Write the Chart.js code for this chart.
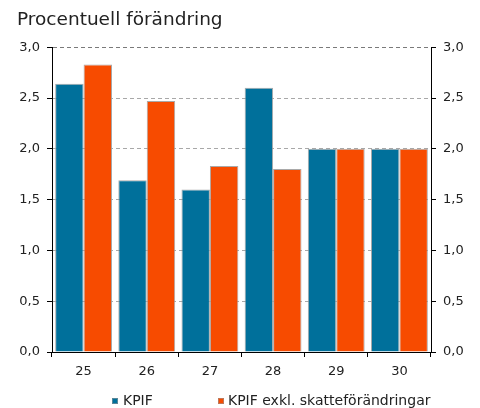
<!DOCTYPE html>
<html>
<head>
<meta charset="utf-8">
<script src="https://cdn.jsdelivr.net/npm/chart.js@4/dist/chart.umd.min.js"></script>
<style>
  html, body { margin: 0; padding: 0; background: #ffffff; }
  #wrap { position: relative; width: 480px; height: 408px; overflow: hidden; }
  #legend { position: absolute; left: 0; top: 0; width: 480px; height: 408px; pointer-events: none;
            font-family: "DejaVu Sans", Verdana, sans-serif; font-size: 14px; color: #222; }
  .sw { position: absolute; width: 6px; height: 6px; box-shadow: inset 0 0 0 1px rgba(150,150,150,0.6); }
  .lt { position: absolute; line-height: 16px; white-space: nowrap; }
</style>
</head>
<body>
<div id="wrap">
  <canvas id="c" width="480" height="408"></canvas>
  <div id="legend"></div>
</div>
<script>
// ---- data ----
const categories = ['25', '26', '27', '28', '29', '30'];
const kpif = [2.64, 1.69, 1.60, 2.60, 2.00, 2.00];
const kpifExkl = [2.83, 2.47, 1.83, 1.80, 2.00, 2.00];
const seriesNames = ['KPIF', 'KPIF exkl. skatteförändringar'];
const subtitle = 'Procentuell förändring';
const yMin = 0, yMax = 3, yStep = 0.5;

// ---- style ----
const colors = ['#00709b', '#f74b00'];
const FONT = '"DejaVu Sans", Verdana, sans-serif';
const legendX = [112, 218];

const fmt = v => Number(v).toFixed(1).replace('.', ',');

const chart = new Chart(document.getElementById('c'), {
  type: 'bar',
  data: {
    labels: categories,
    datasets: [
      { label: seriesNames[0], data: kpif, backgroundColor: colors[0], borderColor: 'rgba(160,160,160,0.9)', borderWidth: 1, borderSkipped: 'bottom' },
      { label: seriesNames[1], data: kpifExkl, backgroundColor: colors[1], borderColor: 'rgba(160,160,160,0.9)', borderWidth: 1, borderSkipped: 'bottom' }
    ]
  },
  options: {
    responsive: false,
    animation: false,
    devicePixelRatio: 1,
    layout: { padding: { left: 17, right: 0, top: 0, bottom: 0 } },
    datasets: { bar: { categoryPercentage: 0.9, barPercentage: 1.0 } },
    plugins: {
      legend: { display: false },
      tooltip: { enabled: false },
      title: {
        display: true, text: subtitle, align: 'start', color: '#222',
        font: { family: FONT, size: 18.5, weight: 'normal' },
        padding: { top: 9, bottom: 16 }
      }
    },
    scales: {
      x: {
        offset: true,
        grid: { display: true, drawOnChartArea: false, drawTicks: true, tickLength: 5, color: '#000', offset: true },
        border: { display: true, color: '#000', width: 1 },
        ticks: { color: '#222', font: { family: FONT, size: 13 }, padding: 7 },
        afterFit: s => { s.height = 56; }
      },
      y: {
        position: 'left', min: yMin, max: yMax,
        ticks: { stepSize: yStep, color: '#222', font: { family: FONT, size: 13 }, padding: 7, callback: fmt },
        grid: {
          drawOnChartArea: true, drawTicks: true, tickLength: 5,
          color: ctx => (ctx.tick && ctx.tick.value === 0) ? 'rgba(0,0,0,0)' : (ctx.tick && ctx.tick.value === 3 ? '#7a7a7a' : '#a8a8a8'),
          tickColor: '#000', tickBorderDash: [0, 0]
        },
        border: { display: true, color: '#000', width: 1, dash: [4, 3] },
        afterFit: s => { s.width = 35; }
      },
      y2: {
        position: 'right', min: yMin, max: yMax,
        ticks: { stepSize: yStep, color: '#222', font: { family: FONT, size: 13 }, padding: 7, callback: fmt },
        grid: { drawOnChartArea: false, drawTicks: true, tickLength: 5, color: '#000', tickColor: '#000' },
        border: { display: true, color: '#000', width: 1 },
        afterFit: s => { s.width = 49; }
      }
    }
  }
});

// HTML legend built from the chart's datasets
const lg = document.getElementById('legend');
chart.data.datasets.forEach((ds, i) => {
  const sw = document.createElement('div');
  sw.className = 'sw';
  sw.style.left = legendX[i] + 'px';
  sw.style.top = '398px';
  sw.style.background = ds.backgroundColor;
  lg.appendChild(sw);
  const t = document.createElement('div');
  t.className = 'lt';
  t.style.left = (legendX[i] + (i === 0 ? 11 : 10)) + 'px';
  t.style.top = '392px';
  t.textContent = ds.label;
  lg.appendChild(t);
});
</script>
</body>
</html>
